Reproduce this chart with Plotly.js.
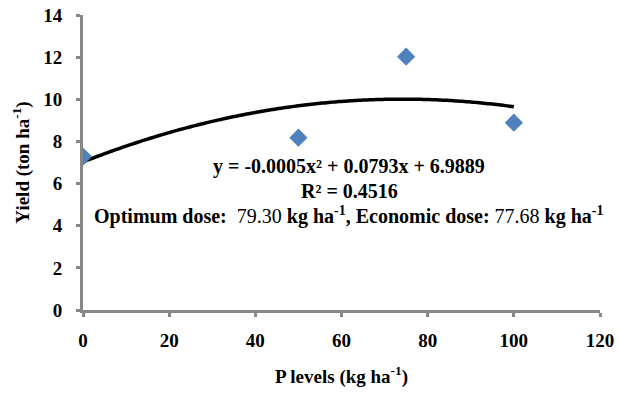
<!DOCTYPE html>
<html>
<head>
<meta charset="utf-8">
<script src="https://cdn.plot.ly/plotly-3.0.1.min.js"></script>
<style>html,body{margin:0;padding:0;background:#fff}#chart{width:620px;height:395px}</style>
</head>
<body>
<div id="chart"></div>
<script>
// Data
var pLevels = [0, 50, 75, 100];
var yieldVals = [7.28, 8.18, 12.02, 8.89];
var xTicks = [0, 20, 40, 60, 80, 100, 120];
var yTicks = [0, 2, 4, 6, 8, 10, 12, 14];
var eqText = "<b>y = -0.0005x² + 0.0793x + 6.9889</b>";
var r2Text = "<b>R² = 0.4516</b>";
var doseText = "<b>Optimum dose:  </b>79.30<b> kg ha<sup>-1</sup>, Economic dose: </b>77.68<b> kg ha<sup>-1</sup></b>";

// Polynomial (order 2) trendline by least squares on the data
function quadFit(xs, ys) {
  var S = [0,0,0,0,0], T = [0,0,0];
  for (var i = 0; i < xs.length; i++) {
    var p = 1;
    for (var k = 0; k < 5; k++) { S[k] += p; if (k < 3) T[k] += p * ys[i]; p *= xs[i]; }
  }
  var M = [[S[0],S[1],S[2],T[0]],[S[1],S[2],S[3],T[1]],[S[2],S[3],S[4],T[2]]];
  for (var c = 0; c < 3; c++) {
    for (var r = c + 1; r < 3; r++) {
      var f = M[r][c] / M[c][c];
      for (var j = c; j < 4; j++) M[r][j] -= f * M[c][j];
    }
  }
  var sol = [0,0,0];
  for (var r2 = 2; r2 >= 0; r2--) {
    var s = M[r2][3];
    for (var j2 = r2 + 1; j2 < 3; j2++) s -= M[r2][j2] * sol[j2];
    sol[r2] = s / M[r2][r2];
  }
  return sol; // c0, c1, c2
}
var coef = quadFit(pLevels, yieldVals);
var xMin = pLevels[0], xMax = pLevels[pLevels.length - 1];
var fitX = [], fitY = [];
for (var i = 0; i <= 100; i++) {
  var xv = xMin + (xMax - xMin) * i / 100;
  fitX.push(xv);
  fitY.push(coef[0] + coef[1] * xv + coef[2] * xv * xv);
}

var serif = '"Liberation Serif", "Times New Roman", Times, serif';
var traces = [
  {x: fitX, y: fitY, mode: "lines", line: {color: "#000000", width: 3.5, simplify: false, shape: "spline"}, hoverinfo: "skip"},
  {x: pLevels, y: yieldVals, mode: "markers", marker: {symbol: "diamond", size: 14, color: "#4F81BD"}}
];
var axisCommon = {
  showgrid: false, zeroline: false, showline: true, linecolor: "#878787", linewidth: 3,
  ticks: "outside", ticklen: 4, tickwidth: 3, tickcolor: "#878787",
  tickfont: {family: serif, size: 19, color: "#000000", weight: "bold"}
};
var layout = {
  width: 620, height: 395,
  margin: {l: 83, r: 20, t: 15, b: 85},
  paper_bgcolor: "#ffffff", plot_bgcolor: "#ffffff",
  showlegend: false,
  font: {family: serif, color: "#000000"},
  xaxis: Object.assign({}, axisCommon, {
    range: [0, 120], tickvals: xTicks, ticktext: xTicks.map(String), ticklabelstandoff: 7,
    title: {text: "<b>P levels (kg ha<sup>-1</sup>)</b>", font: {family: serif, size: 19, color: "#000000"}, standoff: 20}
  }),
  yaxis: Object.assign({}, axisCommon, {
    range: [0, 14], tickvals: yTicks, ticktext: yTicks.map(String), ticklabelstandoff: 10,
    title: {text: "<b>Yield (ton ha<sup>-1</sup>)</b>", font: {family: serif, size: 19, color: "#000000"}, standoff: 9}
  }),
  annotations: [
    {x: 61.8, y: 6.8, xref: "x", yref: "y", text: eqText, showarrow: false, font: {family: serif, size: 20, color: "#000000"}},
    {x: 61.8, y: 5.64, xref: "x", yref: "y", text: r2Text, showarrow: false, font: {family: serif, size: 20, color: "#000000"}},
    {x: 61.8, y: 4.5, xref: "x", yref: "y", text: doseText, showarrow: false, font: {family: serif, size: 20, color: "#000000"}}
  ]
};
Plotly.newPlot("chart", traces, layout, {displayModeBar: false, staticPlot: true});
</script>
</body>
</html>
